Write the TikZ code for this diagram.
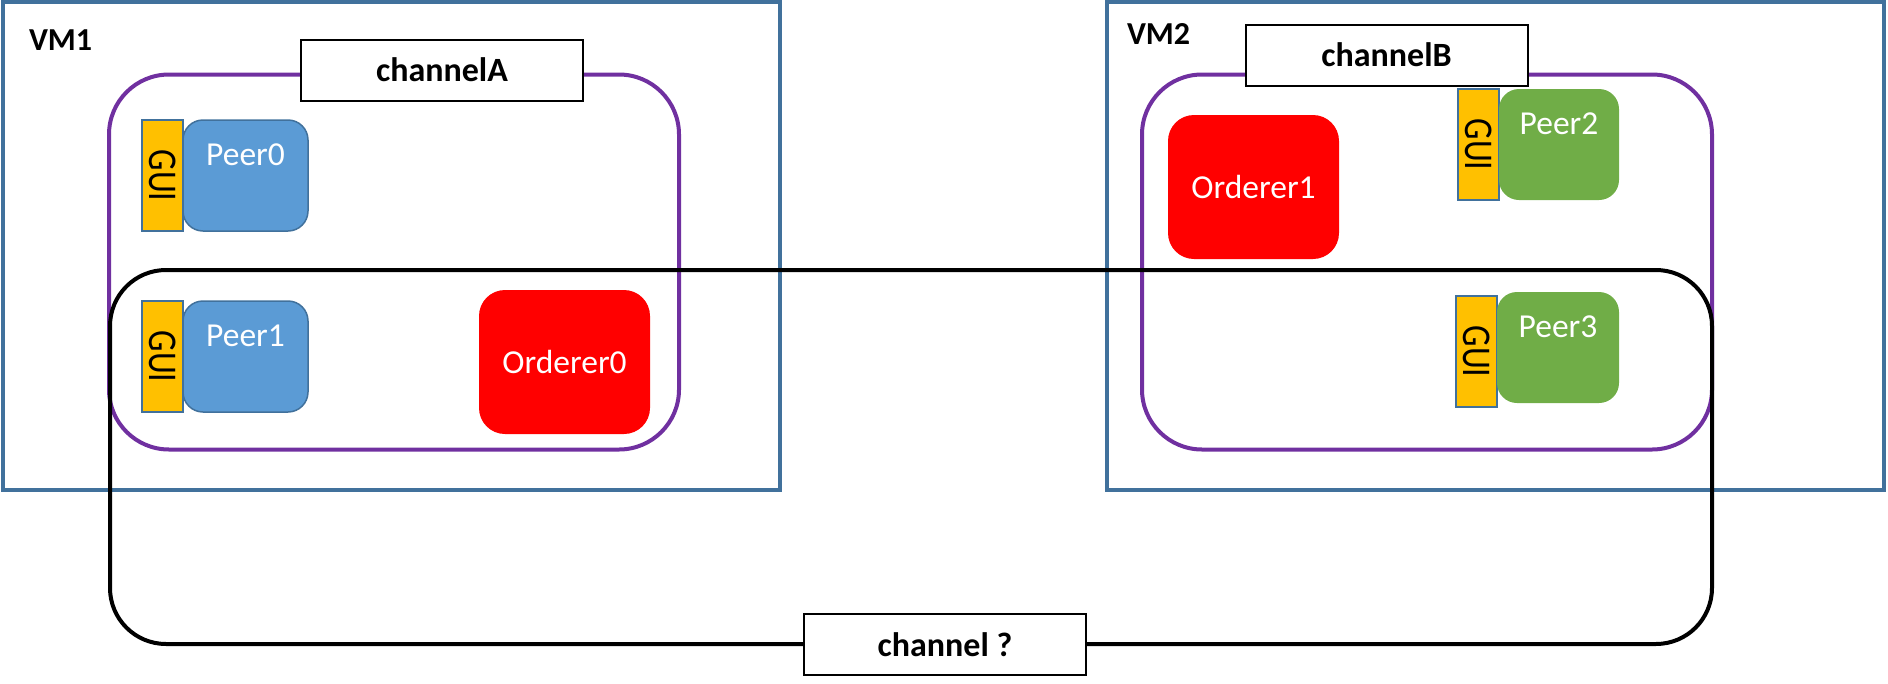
\documentclass[tikz,border=0pt]{standalone}
\usepackage{fontspec}
\setmainfont{Carlito}
\usepackage{xcolor}
\usepackage{tikz}
\usetikzlibrary{positioning}

\definecolor{vmblue}{HTML}{41719C}
\definecolor{peerblue}{HTML}{5B9BD5}
\definecolor{peergreen}{HTML}{70AD47}
\definecolor{ordred}{HTML}{FF0000}
\definecolor{guiyellow}{HTML}{FFC000}
\definecolor{chanpurple}{HTML}{7030A0}

\newcommand{\guitext}{\rotatebox{-90}{\scalebox{1}[1.2]{\fontsize{34}{40}\selectfont GUI}}}

\begin{document}
\begin{tikzpicture}[
    x=1pt, y=-1pt, font=\fontsize{33.5}{40}\selectfont,
    every node/.style={outer sep=0pt},
    vm/.style={draw=vmblue, line width=4pt, minimum width=777pt, minimum height=488pt},
    vmname/.style={anchor=west, inner sep=0pt, font=\fontsize{32}{38}\selectfont\bfseries},
    grp/.style={draw=chanpurple, line width=4pt, rounded corners=60pt, minimum width=570pt, minimum height=375pt},
    chanloop/.style={draw=black, line width=4pt, rounded corners=56pt, minimum width=1602pt, minimum height=374pt},
    tag/.style={draw=black, line width=2pt, fill=white, minimum width=282pt, minimum height=61pt, font=\fontsize{34}{40}\selectfont\bfseries},
    gui/.style={draw=vmblue, line width=1.5pt, fill=guiyellow, minimum width=41pt, minimum height=111pt, inner sep=0pt},
    peer/.style={fill=#1, rounded corners=20pt, minimum height=111pt, inner sep=0pt},
    peertext/.style={anchor=north, yshift=-24pt, inner sep=0pt, text=white},
    orderer/.style={fill=ordred, rounded corners=26pt, minimum width=171pt, minimum height=144pt, text=white}
]
    \useasboundingbox (0,0) rectangle (1888,683);

    % machines
    \node[vm] (vm1) at (391,246) {};
    \node[vm] (vm2) at (1495.5,246) {};
    \node[vmname] (vm1name) at (29,40) {VM1};
    \node[vmname] (vm2name) at (1127,34) {VM2};

    % channels
    \node[grp] (grpA) at (394,262) {};
    \node[grp] (grpB) at (1427,262) {};
    \node[chanloop] (grpC) at (911,457) {};
    \node[tag] (tagA) at (442,70) {channelA};
    \node[tag] (tagB) at (1386.5,55) {channelB};
    \node[tag] (tagC) at (945,644.5) {channel ?};

    % VM1
    \node[gui] (gui0) at (162.5,175.5) {\guitext};
    \node[peer=peerblue, draw=vmblue, line width=1.5pt, minimum width=125pt,
          label={[peertext]north:Peer0}] (peer0) [right=0pt of gui0] {};
    \node[gui] (gui1) at (162.5,356.5) {\guitext};
    \node[peer=peerblue, draw=vmblue, line width=1.5pt, minimum width=125pt,
          label={[peertext]north:Peer1}] (peer1) [right=0pt of gui1] {};
    \node[orderer] (ord0) at (564.5,362) {Orderer0};

    % VM2
    \node[orderer] (ord1) at (1253.5,187) {Orderer1};
    \node[gui] (gui2) at (1478.5,144.5) {\guitext};
    \node[peer=peergreen, minimum width=120pt,
          label={[peertext]north:Peer2}] (peer2) [right=0pt of gui2] {};
    \node[gui] (gui3) at (1476.5,351.5) {\guitext};
    \node[peer=peergreen, minimum width=122pt, yshift=4pt,
          label={[peertext]north:Peer3}] (peer3) [right=0pt of gui3] {};
\end{tikzpicture}
\end{document}
